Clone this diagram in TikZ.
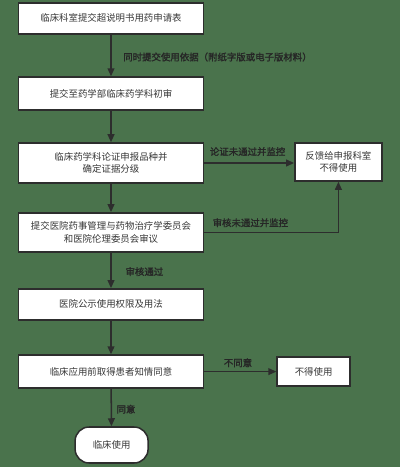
\documentclass[tikz,border=0pt]{standalone}
\usepackage{fontspec}
\newfontfamily\cjk{Noto Sans CJK SC}
\newfontfamily\cjkb{Noto Sans CJK SC}[FakeBold=1.8]
\usetikzlibrary{arrows.meta}
\definecolor{bgreen}{RGB}{74,115,76}
\definecolor{edge}{RGB}{45,45,45}
\definecolor{ink}{RGB}{55,55,55}
\tikzset{
  box/.style={draw=edge,fill=white,line width=0.38mm,inner sep=0mm,
    text=ink,align=center,font=\cjk\fontsize{6.7pt}{9pt}\selectfont},
  lbl/.style={text=black!85,font=\cjkb\fontsize{6.7pt}{8pt}\selectfont,inner sep=0mm},
  flow/.style={->,>={Triangle[length=2mm,width=1.7mm]},line width=0.38mm,draw=edge}
}
\begin{document}
\begin{tikzpicture}
\fill[bgreen] (0mm,0mm) rectangle (100mm,-116.75mm);
\useasboundingbox (0mm,0mm) rectangle (100mm,-116.75mm);
% main column
\node[box,minimum width=46.25mm,minimum height=7.75mm] (apply) at (27.75mm,-4.6mm)
  {临床科室提交超说明书用药申请表};
\node[box,minimum width=46.25mm,minimum height=8.25mm] (firstcheck) at (27.75mm,-23.4mm)
  {提交至药学部临床药学科初审};
\node[box,minimum width=46.25mm,minimum height=10mm] (argue) at (27.75mm,-40.75mm)
  {临床药学科论证申报品种并\\确定证据分级};
\node[box,minimum width=46.25mm,minimum height=9.75mm] (committee) at (27.75mm,-58.1mm)
  {提交医院药事管理与药物治疗学委员会\\和医院伦理委员会审议};
\node[box,minimum width=46.25mm,minimum height=7.75mm] (publish) at (27.75mm,-76.1mm)
  {医院公示使用权限及用法};
\node[box,minimum width=46.25mm,minimum height=8.25mm] (consent) at (27.75mm,-92.9mm)
  {临床应用前取得患者知情同意};
\node[box,rounded corners=3.5mm,minimum width=18.25mm,minimum height=9mm] (use) at (27.9mm,-111.25mm)
  {临床使用};
% side boxes
\node[box,minimum width=21.75mm,minimum height=9.5mm] (feedback) at (84.6mm,-40.5mm)
  {反馈给申报科室\\不得使用};
\node[box,minimum width=18.25mm,minimum height=7.25mm] (refuse) at (78.4mm,-92.9mm)
  {不得使用};
% connectors
\path[flow] (apply) -- (firstcheck);
\path[flow] (firstcheck) -- (argue);
\path[flow] (argue) -- (committee);
\path[flow] (committee) -- (publish);
\path[flow] (publish) -- (consent);
\path[flow] (consent) -- (use);
\path[flow] (argue.east) -- (argue.east -| feedback.west);
\path[flow] (committee.east) -| (feedback.south);
\path[flow] (consent.east) -- (refuse.west);
% labels
\node[lbl,anchor=west] (lblsubmit) at (30.75mm,-14.25mm) {同时提交使用依据（附纸字版或电子版材料）};
\node[lbl] (lblfail) at (61.9mm,-37.9mm) {论证未通过并监控};
\node[lbl] (lblreject) at (62.6mm,-55.7mm) {审核未通过并监控};
\node[lbl] (lblpass) at (36.1mm,-67.9mm) {审核通过};
\node[lbl] (lblno) at (59.5mm,-90.7mm) {不同意};
\node[lbl] (lblyes) at (31.5mm,-102.3mm) {同意};
\end{tikzpicture}
\end{document}
